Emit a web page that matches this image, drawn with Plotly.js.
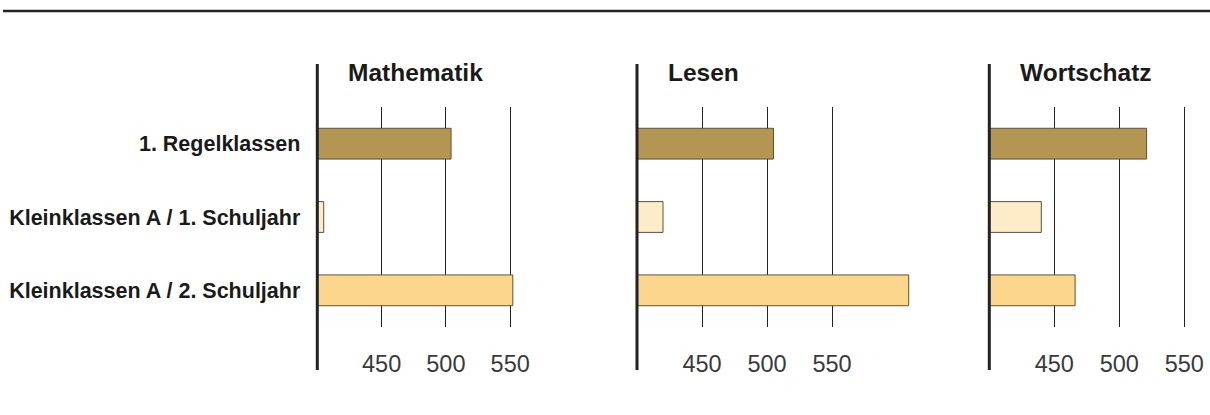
<!DOCTYPE html>
<html>
<head>
<meta charset="utf-8">
<script src="https://cdn.plot.ly/plotly-3.0.1.min.js"></script>
<style>html,body{margin:0;padding:0;background:#fff;}#chart{width:1210px;height:415px;}</style>
</head>
<body>
<div id="chart"></div>
<script>
const categories = ['1. Regelklassen', 'Kleinklassen A / 1. Schuljahr', 'Kleinklassen A / 2. Schuljahr'];
const panelTitles = ['Mathematik', 'Lesen', 'Wortschatz'];
const mathematik = [504, 405, 552];
const lesen = [505, 420, 609];
const wortschatz = [521, 440, 466];
const tickValues = [450, 500, 550];
const tickLabels = ['450', '500', '550'];
const barColors = ['#b59552', '#feebc9', '#fdd68d'];

const W = 1210, H = 415;
const px = v => v / W;
const py = v => 1 - v / H;

const panels = [
  {values: mathematik, x0: 317.3, x1: 548.8, range: [400, 580]},
  {values: lesen, x0: 637, x1: 923, range: [400, 620]},
  {values: wortschatz, x0: 989.3, x1: 1197.3, range: [400, 560]}
];

const yDomain = [py(327), py(107)];
const traces = [];
const layout = {
  width: W, height: H,
  margin: {l: 0, r: 0, t: 0, b: 0},
  paper_bgcolor: '#fff', plot_bgcolor: 'rgba(0,0,0,0)',
  showlegend: false,
  bargap: 0.58,
  shapes: [],
  annotations: [],
  font: {family: 'Liberation Sans, Arial, sans-serif', color: '#1a1a1a'}
};

panels.forEach((p, i) => {
  const n = i + 1;
  const xa = 'x' + (n === 1 ? '' : n);
  const ya = 'y' + (n === 1 ? '' : n);
  traces.push({
    type: 'bar', orientation: 'h',
    x: p.values, y: categories,
    xaxis: xa, yaxis: ya,
    marker: {color: barColors, line: {color: '#5e5040', width: 1}},
    hoverinfo: 'x+y'
  });
  layout['xaxis' + (n === 1 ? '' : n)] = {
    domain: [px(p.x0), px(p.x1)],
    range: p.range,
    anchor: ya,
    tickvals: tickValues, ticktext: tickLabels,
    showgrid: true, gridcolor: '#222', gridwidth: 1,
    zeroline: false, showline: false, ticks: '',
    ticklabelstandoff: 20,
    tickfont: {size: 23.5, color: '#3a3a3a', family: 'Liberation Sans, Arial, sans-serif'},
    fixedrange: true
  };
  layout['yaxis' + (n === 1 ? '' : n)] = {
    domain: yDomain,
    anchor: xa,
    type: 'category',
    categoryorder: 'array', categoryarray: categories,
    autorange: 'reversed',
    showgrid: false, zeroline: false, showline: false, ticks: '',
    showticklabels: n === 1,
    ticklabelstandoff: 16,
    tickfont: {size: 21.5, color: '#1a1a1a', family: 'Liberation Sans, Arial, sans-serif', weight: 'bold'},
    fixedrange: true
  };
  layout.shapes.push({
    type: 'line', xref: 'paper', yref: 'paper',
    x0: px(p.x0), x1: px(p.x0), y0: py(370), y1: py(64),
    line: {color: '#222', width: 3}
  });
  layout.annotations.push({
    xref: 'paper', yref: 'paper',
    x: px(p.x0 + 29), y: py(72),
    xanchor: 'left', yanchor: 'middle',
    text: '<b>' + panelTitles[i] + '</b>', showarrow: false,
    font: {size: 24.5, color: '#1a1a1a', family: 'Liberation Sans, Arial, sans-serif'}
  });
});

layout.shapes.push({
  type: 'line', xref: 'paper', yref: 'paper',
  x0: px(3), x1: 1, y0: py(11), y1: py(11),
  line: {color: '#222', width: 2.5}
});

Plotly.newPlot('chart', traces, layout, {displayModeBar: false, staticPlot: true});
</script>
</body>
</html>
